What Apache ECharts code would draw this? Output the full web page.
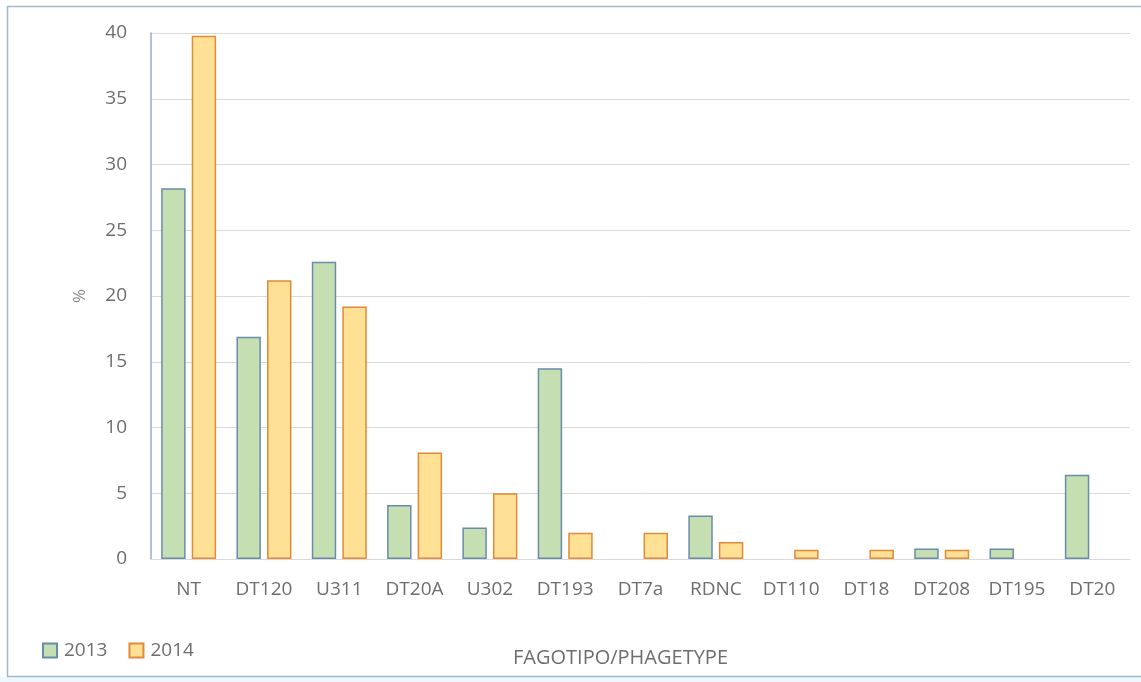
<!DOCTYPE html>
<html>
<head>
<meta charset="utf-8">
<script src="https://cdn.jsdelivr.net/npm/echarts@6/dist/echarts.min.js"></script>
<style>
  html, body { margin: 0; padding: 0; background: #ffffff; }
  #chart { width: 1141px; height: 682px; }
</style>
</head>
<body>
<div id="chart"></div>
<script>
// Phage type distribution (%) for 2013 and 2014
const categories = ['NT', 'DT120', 'U311', 'DT20A', 'U302', 'DT193', 'DT7a', 'RDNC', 'DT110', 'DT18', 'DT208', 'DT195', 'DT20'];
const values2013 = [28.2, 16.9, 22.6, 4.1, 2.4, 14.5, 0, 3.3, 0, 0, 0.8, 0.8, 6.4];
const values2014 = [39.8, 21.2, 19.2, 8.1, 5.0, 2.0, 2.0, 1.3, 0.7, 0.7, 0.7, 0, 0];
const seriesNames = ['2013', '2014'];
const yTicks = { min: 0, max: 40, interval: 5 };

const FONT = '"Open Sans", "Noto Sans", sans-serif';
const TEXT = '#6e6e6e';

// zero shares get no bar at all (no outline on the baseline)
const asBars = arr => arr.map(v => (v === 0 ? '-' : v));

const chart = echarts.init(document.getElementById('chart'), null, { renderer: 'canvas' });

chart.setOption({
  backgroundColor: '#ffffff',
  animation: false,
  graphic: [
    {
      type: 'rect',
      silent: true,
      shape: { x: 0, y: 677, width: 1141, height: 5 },
      style: { fill: '#eef8fc' },
      z: -2
    },
    {
      type: 'rect',
      silent: true,
      shape: { x: 7.5, y: 6.5, width: 1150, height: 670 },
      style: { fill: 'none', stroke: '#a3b8cc', lineWidth: 1.5 },
      z: -1
    }
  ],
  grid: { left: 151, right: 11, top: 33, bottom: 123, containLabel: false },
  legend: {
    left: 42,
    top: 641,
    padding: 0,
    itemWidth: 14,
    itemHeight: 14,
    itemGap: 21,
    icon: 'rect',
    textStyle: { fontFamily: FONT, fontSize: 19, color: TEXT, padding: [0, 0, 0, 2] },
    data: seriesNames
  },
  xAxis: {
    type: 'category',
    data: categories,
    name: 'FAGOTIPO/PHAGETYPE',
    nameLocation: 'middle',
    nameGap: 89,
    nameTextStyle: { fontFamily: FONT, fontSize: 20, color: TEXT, verticalAlign: 'top', padding: [0, 40, 0, 0] },
    axisLine: { lineStyle: { color: '#d9d9d9', width: 1 } },
    axisTick: { show: false },
    axisLabel: { fontFamily: FONT, fontSize: 19, color: TEXT, margin: 21, interval: 0 }
  },
  yAxis: {
    type: 'value',
    min: yTicks.min,
    max: yTicks.max,
    interval: yTicks.interval,
    name: '%',
    nameLocation: 'middle',
    nameRotate: 90,
    nameGap: 62,
    nameTextStyle: { fontFamily: FONT, fontSize: 17, color: '#8a8a8a' },
    axisLine: { show: true, lineStyle: { color: '#9aaac6', width: 1.5 } },
    axisTick: { show: false },
    axisLabel: { fontFamily: FONT, fontSize: 19, color: TEXT, margin: 24 },
    splitLine: { lineStyle: { color: '#d9d9d9', width: 1 } }
  },
  series: [
    {
      name: seriesNames[0],
      type: 'bar',
      data: asBars(values2013),
      barCategoryGap: '27%',
      barGap: '25%',
      itemStyle: { color: '#c5dfb3', borderColor: '#6a8cab', borderWidth: 1.5 }
    },
    {
      name: seriesNames[1],
      type: 'bar',
      data: asBars(values2014),
      barCategoryGap: '27%',
      barGap: '25%',
      itemStyle: { color: '#ffe195', borderColor: '#e08a3a', borderWidth: 1.5 }
    }
  ]
});
</script>
</body>
</html>
